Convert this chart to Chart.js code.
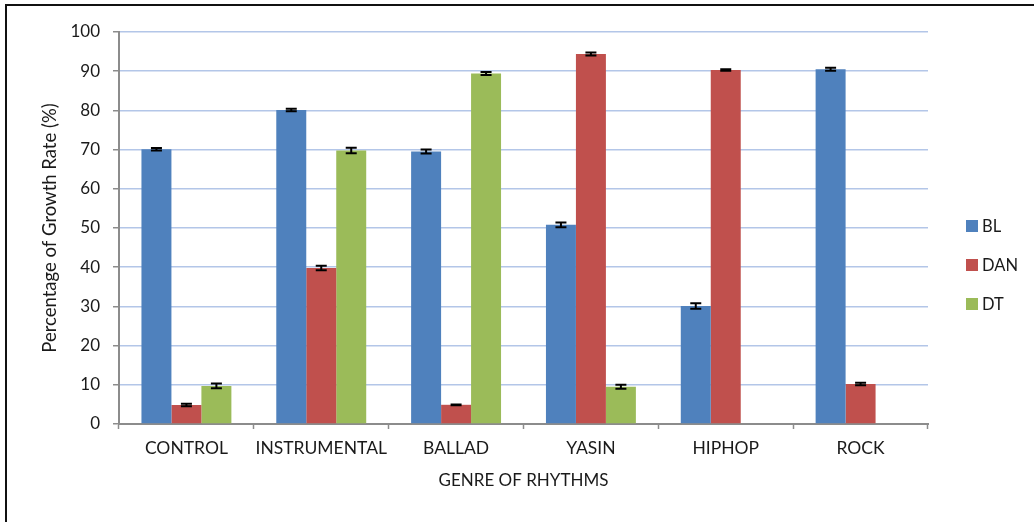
<!DOCTYPE html>
<html><head><meta charset="utf-8">
<script src="https://cdn.jsdelivr.net/npm/chart.js@4/dist/chart.umd.min.js"></script>
<style>
html,body{margin:0;padding:0;background:#fff;overflow:hidden;}
#wrap{position:absolute;left:0;top:0;width:1034px;height:522px;}
#frame{position:absolute;left:5px;top:4px;width:1060px;height:560px;border:2px solid #111;box-sizing:border-box;pointer-events:none}
</style></head><body>
<div id="wrap"><canvas id="c" width="1034" height="522"></canvas></div>
<div id="frame"></div>
<script>
const categories = ["CONTROL","INSTRUMENTAL","BALLAD","YASIN","HIPHOP","ROCK"];
const seriesNames = ["BL","DAN","DT"];
const blValues  = [70.1, 80.1, 69.5, 50.8, 30.1, 90.5];
const danValues = [4.85, 39.8, 4.9, 94.4, 90.3, 10.2];
const dtValues  = [9.7, 69.8, 89.4, 9.5, null, null];
const blErrors  = [0.3, 0.3, 0.5, 0.6, 0.7, 0.4];
const danErrors = [0.3, 0.6, 0.1, 0.4, 0.2, 0.3];
const dtErrors  = [0.6, 0.7, 0.4, 0.5, null, null];
const yTicks = [0,10,20,30,40,50,60,70,80,90,100];
const colors = ["#4f81bd","#c0504d","#9bbb59"];

const FONT = "Lato, 'Open Sans', sans-serif";

const errorBars = {
  id: 'errorBars',
  afterDatasetsDraw(chart) {
    const ctx = chart.ctx, ys = chart.scales.y;
    chart.data.datasets.forEach((ds, i) => {
      const meta = chart.getDatasetMeta(i);
      meta.data.forEach((el, j) => {
        const v = ds.data[j], e = ds.errors[j];
        if (v == null || e == null) return;
        const x = el.x;
        const hi = ys.getPixelForValue(v + e), lo = ys.getPixelForValue(v - e);
        ctx.save();
        ctx.strokeStyle = '#000'; ctx.lineWidth = 2;
        ctx.beginPath();
        ctx.moveTo(x, hi); ctx.lineTo(x, lo);
        ctx.moveTo(x - 5.5, hi); ctx.lineTo(x + 5.5, hi);
        ctx.moveTo(x - 5.5, lo); ctx.lineTo(x + 5.5, lo);
        ctx.stroke();
        ctx.restore();
      });
    });
  }
};

const customLegend = {
  id: 'customLegend',
  afterDraw(chart) {
    const ctx = chart.ctx;
    const yCenters = [226, 265, 304];
    ctx.save();
    ctx.font = "16.5px " + FONT;
    ctx.textBaseline = 'middle';
    ctx.textAlign = 'left';
    chart.data.datasets.forEach((ds, i) => {
      ctx.fillStyle = ds.backgroundColor;
      ctx.fillRect(966, yCenters[i] - 6, 12, 12);
      ctx.fillStyle = '#1a1a1a';
      ctx.fillText(ds.label, 982, yCenters[i] + 1);
    });
    ctx.restore();
  }
};

const values = [blValues, danValues, dtValues];
const errs = [blErrors, danErrors, dtErrors];

new Chart(document.getElementById('c'), {
  type: 'bar',
  data: {
    labels: categories,
    datasets: seriesNames.map((n, i) => ({
      label: n, data: values[i], errors: errs[i],
      backgroundColor: colors[i], borderWidth: 0,
      categoryPercentage: 0.667, barPercentage: 1.0
    }))
  },
  options: {
    responsive: false, animation: false, devicePixelRatio: 1,
    layout: { padding: { left: 0, right: 106, top: 32, bottom: 0 } },
    plugins: { legend: { display: false }, tooltip: { enabled: false } },
    scales: {
      x: {
        afterFit(s) { s.height = 98; },
        grid: { display: true, drawOnChartArea: false, offset: true, tickLength: 5, tickColor: '#8c8c8c', tickWidth: 1.5 },
        border: { display: true, color: '#8c8c8c', width: 2 },
        ticks: { color: '#1a1a1a', font: { family: FONT, size: 17.5 }, padding: 9, maxRotation: 0, autoSkip: false },
        title: { display: true, text: 'GENRE OF RHYTHMS', color: '#1a1a1a', font: { family: FONT, size: 17 }, padding: { top: 0, bottom: 31 } }
      },
      y: {
        min: 0, max: 100,
        afterFit(s) { s.width = 119; },
        afterBuildTicks(s) { s.ticks = yTicks.map(v => ({ value: v })); },
        grid: { color: '#b3c6e8', lineWidth: 1.5, tickLength: 6, tickColor: '#8c8c8c', tickWidth: 1.5 },
        border: { display: true, color: '#8c8c8c', width: 2 },
        ticks: { color: '#1a1a1a', font: { family: FONT, size: 17 }, padding: 13 },
        title: { display: true, text: 'Percentage of Growth Rate (%)', color: '#1a1a1a', font: { family: FONT, size: 18.5 }, padding: { top: 39, bottom: 0 } }
      }
    }
  },
  plugins: [errorBars, customLegend]
});
</script>
</body></html>
